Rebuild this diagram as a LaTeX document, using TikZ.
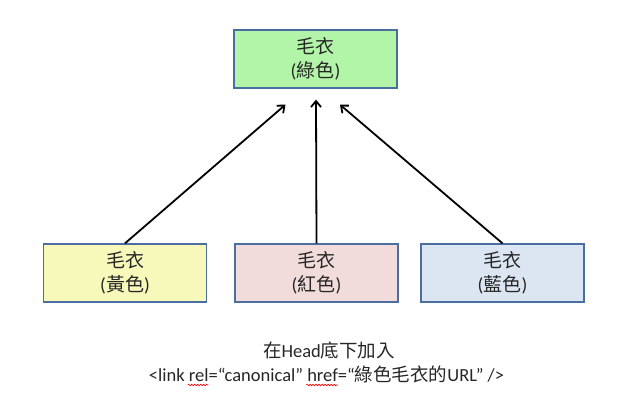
\documentclass[tikz,border=0pt]{standalone}
\usepackage{fontspec}
\setmainfont{Carlito}
\newfontfamily\cjk{Noto Sans CJK TC}
\usetikzlibrary{arrows.meta,decorations.pathmorphing}
\definecolor{bordercol}{HTML}{4A6EA0}
\definecolor{greenfill}{HTML}{B3F5A8}
\definecolor{yellowfill}{HTML}{F6F9BA}
\definecolor{pinkfill}{HTML}{F2DCDB}
\definecolor{bluefill}{HTML}{DCE6F2}
\definecolor{txt}{HTML}{262626}
\newcommand\notefont{\fontsize{18.5}{24}\selectfont}
\newlength\wrelA \newlength\wrelB \newlength\whrefA \newlength\whrefB
\AtBeginDocument{%
  \settowidth\wrelA{\notefont <link }%
  \settowidth\wrelB{\notefont <link rel}%
  \settowidth\whrefA{\notefont <link rel=“canonical” }%
  \settowidth\whrefB{\notefont <link rel=“canonical” href}%
}
\tikzset{
  sweater/.style={draw=bordercol, line width=1.3pt, minimum width=163pt, minimum height=58pt,
    inner sep=0pt, align=center, font=\fontsize{19}{24}\selectfont, text=txt},
  link/.style={line width=1.8pt, black, -{Straight Barb[length=6pt,width=10pt,line width=1.8pt]}},
  notetext/.style={inner sep=0pt, anchor=base, font=\notefont, text=txt},
  squiggle/.style={red, line width=0.6pt, decorate, decoration={snake, amplitude=0.8pt, segment length=3pt}}
}
\begin{document}
\begin{tikzpicture}[x=1pt,y=-1pt]
\useasboundingbox (0,0) rectangle (622,419);
\node[sweater, fill=greenfill] (top) at (315.5,59) {{\cjk 毛衣}\\({\cjk 綠色})};
\node[sweater, fill=yellowfill] (yellow) at (125,273) {{\cjk 毛衣}\\({\cjk 黃色})};
\node[sweater, fill=pinkfill] (red) at (316.5,273) {{\cjk 毛衣}\\({\cjk 紅色})};
\node[sweater, fill=bluefill] (blue) at (502.5,273) {{\cjk 毛衣}\\({\cjk 藍色})};
\coordinate (tl) at ([shift={(-30,16)}]top.south);
\coordinate (tm) at ([shift={(0.5,11)}]top.south);
\coordinate (tr) at ([shift={(24.5,16)}]top.south);
\draw[link] (yellow.north) -- (tl);
\draw[link] (red.north) -- (tm);
\draw[link] (blue.north) -- (tr);
\node[notetext] (line1) at (329,358) {{\cjk 在}Head{\cjk 底下加入}};
\node[notetext] (line2) at (326.5,382) {<link rel=“canonical” href=“{\cjk 綠色毛衣的}URL" />};
\coordinate (sq1a) at ([xshift=\wrelA-1pt, yshift=-3pt]line2.base west);
\coordinate (sq1b) at ([xshift=\wrelB, yshift=-3pt]line2.base west);
\coordinate (sq2a) at ([xshift=\whrefA-1pt, yshift=-3pt]line2.base west);
\coordinate (sq2b) at ([xshift=\whrefB, yshift=-3pt]line2.base west);
\draw[squiggle] (sq1a) -- (sq1b);
\draw[squiggle] (sq2a) -- (sq2b);
\end{tikzpicture}
\end{document}
